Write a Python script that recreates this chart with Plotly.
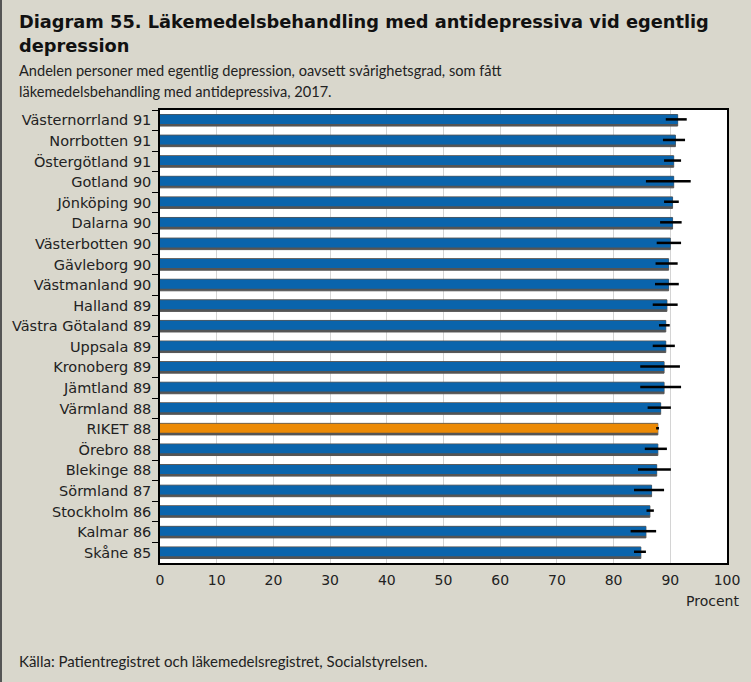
import plotly.graph_objects as go

regions = ["Västernorrland", "Norrbotten", "Östergötland", "Gotland", "Jönköping", "Dalarna",
           "Västerbotten", "Gävleborg", "Västmanland", "Halland", "Västra Götaland", "Uppsala",
           "Kronoberg", "Jämtland", "Värmland", "RIKET", "Örebro", "Blekinge", "Sörmland",
           "Stockholm", "Kalmar", "Skåne"]
values = [91.3, 90.9, 90.6, 90.6, 90.4, 90.4, 90.0, 89.7, 89.7, 89.4, 89.2, 89.2,
          88.9, 88.9, 88.3, 87.8, 87.8, 87.6, 86.7, 86.4, 85.7, 84.8]
ci_low = [89.2, 88.7, 88.9, 85.7, 88.9, 88.2, 87.6, 87.4, 87.3, 86.9, 88.0, 86.9,
          84.7, 84.7, 86.0, 87.5, 85.5, 84.3, 83.6, 85.8, 83.0, 83.6]
ci_high = [92.9, 92.6, 91.9, 93.6, 91.5, 92.0, 91.9, 91.3, 91.5, 91.3, 89.9, 90.8,
           91.7, 91.9, 90.1, 88.0, 89.4, 90.1, 88.9, 87.1, 87.5, 85.7]
shown = [91, 91, 91, 90, 90, 90, 90, 90, 90, 89, 89, 89, 89, 89, 88, 88, 88, 88, 87, 86, 86, 85]
x_ticks = [0, 10, 20, 30, 40, 50, 60, 70, 80, 90, 100]

labels = [f"{r} {s}" for r, s in zip(regions, shown)]
BLUE = "#0A64AC"
ORANGE = "#EC8A05"
GRAY = "#555555"
TXT = "#222222"
colors = [ORANGE if r == "RIKET" else BLUE for r in regions]
TICKFONT = "DejaVu Sans"
TEXTFONT = "Lato"

W, H = 751, 682
ML, MR, MT, MB = 160, 24, 110, 119

fig = go.Figure()
# shadow / outline bar
fig.add_trace(go.Bar(
    y=labels, x=values, orientation="h",
    marker=dict(color=GRAY, line=dict(color=GRAY, width=1)),
    width=0.56, offset=-0.28, hoverinfo="skip", showlegend=False,
))
fig.add_trace(go.Bar(
    y=labels, x=values, orientation="h",
    marker=dict(color=colors, line=dict(width=0)),
    width=0.44, offset=-0.265, showlegend=False,
    error_x=dict(type="data", symmetric=False,
                 array=[h - v for h, v in zip(ci_high, values)],
                 arrayminus=[v - l for l, v in zip(ci_low, values)],
                 color="black", thickness=2.5, width=0),
))

fig.update_layout(
    width=W, height=H,
    barmode="overlay",
    paper_bgcolor="#D9D7CC",
    plot_bgcolor="white",
    margin=dict(l=ML, r=MR, t=MT, b=MB, autoexpand=False),
    font=dict(family=TEXTFONT, size=14, color=TXT),
    showlegend=False,
)
fig.update_yaxes(
    autorange="reversed", type="category", automargin=False,
    showline=True, linecolor="black", linewidth=1.5, mirror=True,
    ticks="outside", ticklen=6, tickcolor="black", tickson="boundaries",
    tickfont=dict(family=TICKFONT, size=14.5, color=TXT),
    showgrid=False, ticklabelstandoff=4,
)
fig.update_xaxes(
    range=[0, 100], tickvals=x_ticks, ticktext=[str(t) for t in x_ticks],
    automargin=False,
    showline=True, linecolor="black", linewidth=1.5, mirror=True,
    showgrid=True, gridcolor="#D4D4D4", gridwidth=1,
    ticks="", tickfont=dict(family=TICKFONT, size=14, color=TXT),
    ticklabelstandoff=3, zeroline=False,
)

plot_w = W - ML - MR
plot_h = H - MT - MB


def px_x(px):
    return (px - ML) / plot_w


def px_y(py):
    return (H - MB - py) / plot_h


def txt(text, x, y, size, family=TEXTFONT, xanchor="left", bold=False, color=TXT):
    return dict(text=f"<b>{text}</b>" if bold else text,
                x=px_x(x), y=px_y(y), xref="paper", yref="paper", showarrow=False,
                xanchor=xanchor, yanchor="middle", align="left",
                font=dict(family=family, size=size, color=color))


fig.update_layout(annotations=[
    txt("Diagram 55. Läkemedelsbehandling med antidepressiva vid egentlig", 17, 22, 17.8,
        family="DejaVu Sans", bold=True, color="#111111"),
    txt("depression", 17, 46, 17.8, family="DejaVu Sans", bold=True, color="#111111"),
    txt("Andelen personer med egentlig depression, oavsett svårighetsgrad, som fått", 17, 70, 14.6),
    txt("läkemedelsbehandling med antidepressiva, 2017.", 17, 91, 14.6),
    txt("Procent", 741, 601, 14, family=TICKFONT, xanchor="right"),
    txt("Källa: Patientregistret och läkemedelsregistret, Socialstyrelsen.", 17, 661, 15),
])
fig.add_shape(type="line", xref="paper", yref="paper",
              x0=px_x(1), x1=px_x(1), y0=px_y(0), y1=px_y(H),
              line=dict(color="#555555", width=2))

fig.write_html("out.html", config={"displayModeBar": False},
               post_script="document.body.style.margin='0';")
